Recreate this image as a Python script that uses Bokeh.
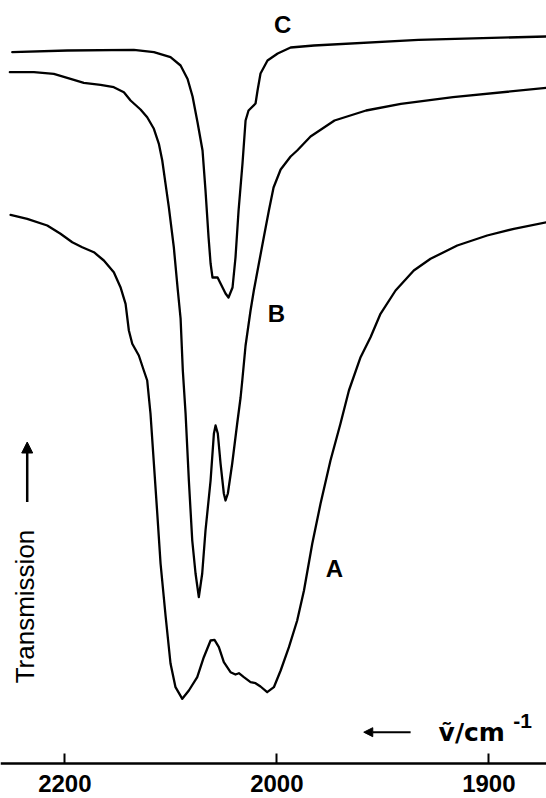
import numpy as np
from bokeh.plotting import figure
from bokeh.models import (Range1d, LinearAxis, FixedTicker, Arrow, NormalHead,
                          ColumnDataSource)
from bokeh.core.properties import value
from bokeh.embed import file_html
from bokeh.resources import INLINE

# ---------------- data (wavenumber / cm^-1, transmission in arbitrary units) -------------
C_NU = [2249.6, 2197.7, 2134.9, 2116.0, 2100.3, 2090.8, 2084.2, 2079.5, 2074.8, 2070.1,
        2067.3, 2064.4, 2062.5, 2060.7, 2055.9, 2053.1, 2048.4, 2045.6, 2041.8, 2039.0,
        2036.1, 2032.4, 2029.5, 2026.7, 2020.1, 2018.2, 2015.4, 2008.8, 1999.6, 1993.5,
        1982.5, 1933.2, 1872.8]
C_T = [71.08, 71.25, 71.32, 71.08, 70.58, 69.75, 68.40, 66.65, 64.05, 61.25,
       57.25, 52.55, 49.95, 48.55, 48.55, 47.95, 46.95, 46.55, 47.55, 50.55,
       55.25, 59.95, 64.25, 65.25, 65.95, 67.25, 68.95, 70.25, 70.95, 71.55,
       71.75, 72.32, 72.65]

B_NU = [2251.9, 2229.2, 2210.4, 2194.6, 2182.1, 2166.3, 2153.8, 2144.3, 2138.0, 2128.6,
        2122.3, 2116.0, 2111.3, 2108.1, 2105.0, 2101.9, 2097.2, 2093.4, 2090.8, 2088.7,
        2086.1, 2083.0, 2079.8, 2076.7, 2073.6, 2070.4, 2067.3, 2062.5, 2059.4, 2057.8,
        2055.7, 2053.1, 2050.0, 2048.4, 2046.2, 2042.1, 2037.4, 2034.2, 2032.6, 2029.5,
        2024.8, 2021.7, 2017.0, 2012.3, 2007.5, 2003.1, 1998.2, 1993.5, 1990.4, 1984.1,
        1972.8, 1957.9, 1941.5, 1916.9, 1872.8]
B_T = [69.08, 69.08, 68.92, 68.42, 68.02, 67.82, 67.58, 67.08, 66.25, 65.35,
       64.58, 63.42, 61.92, 60.25, 57.92, 55.58, 51.58, 47.25, 44.45, 39.25,
       34.95, 28.25, 22.25, 18.95, 16.58, 18.95, 23.25, 28.25, 32.92, 33.75,
       32.95, 29.95, 26.95, 26.25, 26.95, 29.95, 33.95, 36.55, 38.25, 41.75,
       45.25, 47.25, 49.92, 52.58, 55.25, 57.55, 59.35, 60.65, 61.25, 62.65,
       64.25, 65.25, 65.92, 66.58, 67.52]

A_NU = [2251.2, 2235.5, 2216.6, 2204.1, 2193.0, 2183.6, 2172.6, 2163.2, 2153.8, 2147.5,
        2142.7, 2139.6, 2136.4, 2130.2, 2125.5, 2122.3, 2119.2, 2116.0, 2112.8, 2109.7,
        2105.0, 2100.3, 2095.6, 2089.2, 2083.0, 2075.1, 2068.9, 2062.5, 2058.8, 2054.7,
        2050.0, 2043.7, 2039.0, 2035.8, 2031.1, 2024.8, 2020.1, 2015.4, 2009.1, 2002.8,
        1998.2, 1994.3, 1990.4, 1987.2, 1983.3, 1979.4, 1974.7, 1970.0, 1966.0, 1960.5,
        1955.8, 1951.1, 1944.0, 1935.4, 1927.5, 1914.9, 1900.8, 1888.2, 1872.8]
A_T = [54.82, 54.42, 53.75, 52.92, 52.08, 51.58, 51.08, 50.25, 49.08, 47.58,
       45.92, 43.25, 41.92, 40.75, 39.25, 38.25, 34.95, 29.95, 24.95, 19.95,
       14.75, 9.95, 7.58, 6.42, 7.25, 8.58, 10.58, 12.25, 12.32, 11.58,
       10.08, 9.08, 8.85, 8.98, 8.58, 8.08, 7.98, 7.65, 7.08, 7.58,
       9.25, 11.58, 14.25, 17.25, 21.92, 25.92, 30.25, 33.92, 37.25, 40.58,
       42.58, 44.92, 47.25, 49.25, 50.42, 51.75, 52.75, 53.42, 54.08]

TICK_NU = [2200, 2000, 1900]
TICK_LABELS = ["2200", "2000", "1900"]

CURVE_LABELS = ["C", "B", "A"]
CURVE_LABEL_NU = [1997.3, 2000.3, 1972.8]
CURVE_LABEL_T = [73.85, 44.95, 19.5]


# spectrometer abscissa: scale doubles below 2000 cm^-1
def to_u(nu):
    nu = np.asarray(nu, dtype=float)
    return np.where(nu >= 2000, 2200 - nu, 200 + 2 * (2000 - nu))


p = figure(width=546, height=798, output_backend="svg", toolbar_location=None,
           x_axis_type=None, y_axis_type=None,
           x_range=Range1d(-60.7, 454.4), y_range=Range1d(-3.55, 76.25),
           min_border_left=0, min_border_right=0, min_border_top=0, min_border_bottom=0)
p.outline_line_color = None
p.xgrid.visible = False
p.ygrid.visible = False
p.background_fill_color = "white"
p.border_fill_color = "white"

for nu, t in ((C_NU, C_T), (B_NU, B_T), (A_NU, A_T)):
    p.line(to_u(nu), t, line_color="black", line_width=2.3, line_join="round", line_cap="round")

xaxis = LinearAxis(fixed_location=0,
                   ticker=FixedTicker(ticks=[float(v) for v in to_u(TICK_NU)], minor_ticks=[]),
                   major_label_overrides={float(u): s for u, s in zip(to_u(TICK_NU), TICK_LABELS)})
xaxis.axis_line_width = 2.5
xaxis.axis_line_color = "black"
xaxis.major_tick_in = 10
xaxis.major_tick_out = 0
xaxis.major_tick_line_width = 2
xaxis.major_tick_line_color = "black"
xaxis.minor_tick_line_color = None
xaxis.major_label_standoff = 12
xaxis.major_label_text_font = "Liberation Sans"
xaxis.major_label_text_font_style = "bold"
xaxis.major_label_text_font_size = "24px"
xaxis.major_label_text_color = "black"
p.add_layout(xaxis, "below")

src = ColumnDataSource(dict(x=to_u(CURVE_LABEL_NU), y=CURVE_LABEL_T, t=CURVE_LABELS))
p.text(x="x", y="y", text="t", source=src, text_font=value("Liberation Sans"),
       text_font_style="bold", text_font_size="24px", text_align="center",
       text_baseline="middle", text_color="black")

# ordinate caption with arrow
p.text(x=[float(to_u(2238))], y=[15.65], text=["Transmission"], angle=np.pi / 2,
       text_font=value("Liberation Sans"), text_font_size="26px",
       text_align="center", text_baseline="middle", text_color="black")
p.add_layout(Arrow(end=NormalHead(size=11, fill_color="black", line_color="black"),
                   x_start=float(to_u(2235.5)), y_start=26.1,
                   x_end=float(to_u(2235.5)), y_end=32.1,
                   line_width=2.5, line_color="black"))

# abscissa caption with arrow
p.add_layout(Arrow(end=NormalHead(size=9, fill_color="black", line_color="black"),
                   x_start=float(to_u(1936.9)), y_start=3.08,
                   x_end=float(to_u(1959.0)), y_end=3.08,
                   line_width=2, line_color="black"))
p.text(x=[float(to_u(1923.7))], y=[3.05], text=["\u1e7d/cm"],
       text_font=value("DejaVu Sans"), text_font_style="bold", text_font_size="25px",
       text_align="left", text_baseline="alphabetic", text_color="black")
p.text(x=[float(to_u(1888.5))], y=[4.25], text=["-1"],
       text_font=value("Liberation Sans"), text_font_style="bold", text_font_size="21px",
       text_align="left", text_baseline="alphabetic", text_color="black")

open("out.html", "w").write(file_html(p, INLINE))
